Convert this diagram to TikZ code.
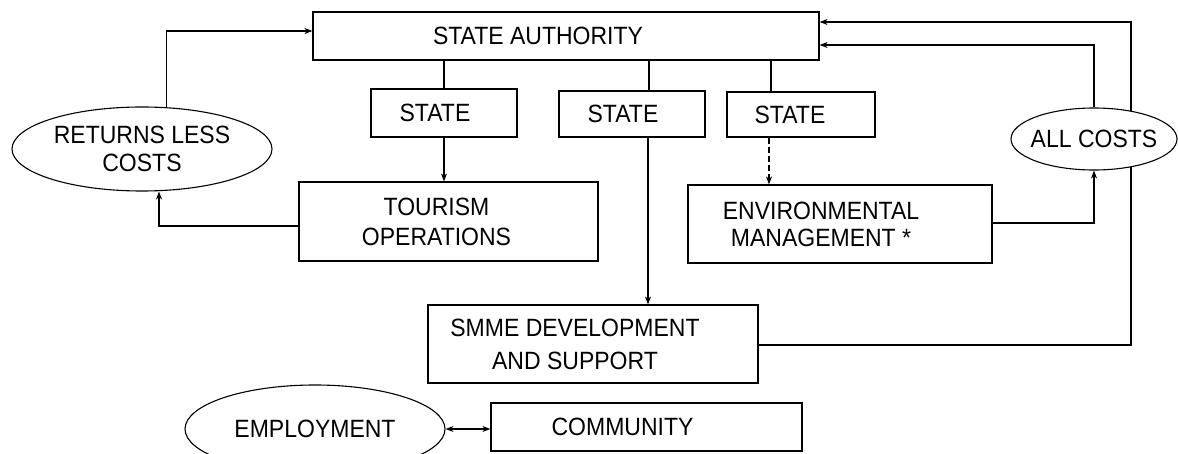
\documentclass[tikz,border=0pt]{standalone}
\usepackage{fontspec}
\setmainfont{Liberation Sans}[FakeStretch=0.92]
\usetikzlibrary{arrows.meta,shapes.geometric,calc}
\tikzset{
  box/.style={draw, line width=1.2pt, rectangle, inner sep=0pt},
  oval/.style={draw, line width=1.1pt, ellipse, inner sep=0pt, fill=white},
  txt/.style={inner sep=0pt, align=center, font=\fontsize{25}{29}\selectfont},
  conn/.style={line width=1.1pt},
  arr/.style={conn, -{Stealth[length=8pt,width=6pt]}},
  arrtwo/.style={conn, {Stealth[length=8pt,width=6pt]}-{Stealth[length=8pt,width=6pt]}},
  dsh/.style={arr, dash pattern=on 6pt off 3pt},
}
\begin{document}
\begin{tikzpicture}[x=1pt,y=-1pt]
\useasboundingbox (0,0) rectangle (1178,454);
\clip (0,0) rectangle (1178,454);
% boxes
\node[box, minimum width=506pt, minimum height=48pt] (sa) at (566,36) {};
\node[txt] (saT) at ([xshift=-28pt]sa.center) {STATE AUTHORITY};
\node[box, minimum width=146pt, minimum height=48pt] (st1) at (444,113) {};
\node[txt] (st1T) at ([xshift=-9pt]st1.center) {STATE};
\node[box, minimum width=146pt, minimum height=46pt] (st2) at (632,114) {};
\node[txt] (st2T) at ([xshift=-9pt]st2.center) {STATE};
\node[box, minimum width=148pt, minimum height=45pt] (st3) at (801,114.5) {};
\node[txt] (st3T) at ([xshift=-11pt]st3.center) {STATE};
\node[box, minimum width=299pt, minimum height=79pt] (tour) at (448.5,221.5) {};
\node[txt, font=\fontsize{25}{30}\selectfont] (tourT) at ([xshift=-12pt]tour.center) {TOURISM\\OPERATIONS};
\node[box, minimum width=304pt, minimum height=78pt] (env) at (840,224) {};
\node[txt, font=\fontsize{25}{27}\selectfont] (envT) at ([xshift=-19pt]env.center) {ENVIRONMENTAL\\MANAGEMENT *};
\node[box, minimum width=330pt, minimum height=78pt] (smme) at (593,344) {};
\node[txt, font=\fontsize{25}{33}\selectfont] (smmeT) at ([xshift=-18pt]smme.center) {SMME DEVELOPMENT\\AND SUPPORT};
\node[box, minimum width=311pt, minimum height=48pt] (comm) at (646.5,427) {};
\node[txt] (commT) at ([xshift=-24pt]comm.center) {COMMUNITY};
% ellipses
\node[oval, minimum width=260pt, minimum height=84pt] (ret) at (142,149) {};
\node[txt, font=\fontsize{25}{28}\selectfont] (retT) at (ret.center) {RETURNS LESS\\COSTS};
\node[oval, minimum width=260pt, minimum height=88pt] (emp) at (315,429) {};
\node[txt] (empT) at (emp.center) {EMPLOYMENT};
% connectors
\draw[arr] (ret.60) |- ([yshift=5pt]sa.west);
\draw[arr] ([yshift=-4.5pt]tour.west) -| ([xshift=17pt]ret.south);
\draw[conn] (st1.north) -- (st1.north |- sa.south);
\draw[arr] (st1.south) -- (st1.south |- tour.north);
\draw[conn] ([xshift=17pt]st2.north) -- ([xshift=17pt]st2.north |- sa.south);
\draw[arr] ([xshift=16pt]st2.south) -- ([xshift=16pt]st2.south |- smme.north);
\draw[conn] ([xshift=-30pt]st3.north) -- ([xshift=-30pt]st3.north |- sa.south);
\draw[dsh] ([xshift=-32pt]st3.south) -- ([xshift=-32pt]st3.south |- env.north);
\coordinate (oc) at (1131,22);
\draw[arr] ([yshift=-1pt]smme.east) -| (oc) -- (oc -| sa.east);
\node[oval, minimum width=166pt, minimum height=62pt] (allc) at (1094,139) {};
\node[txt] (allcT) at (allc.center) {ALL COSTS};
\draw[arr] ([yshift=1pt]env.east) -| (allc.south);
\draw[arr] (allc.north) |- ([yshift=-9pt]sa.east);
\draw[arrtwo] (emp.east) -- (emp.east -| comm.west);
\end{tikzpicture}
\end{document}
